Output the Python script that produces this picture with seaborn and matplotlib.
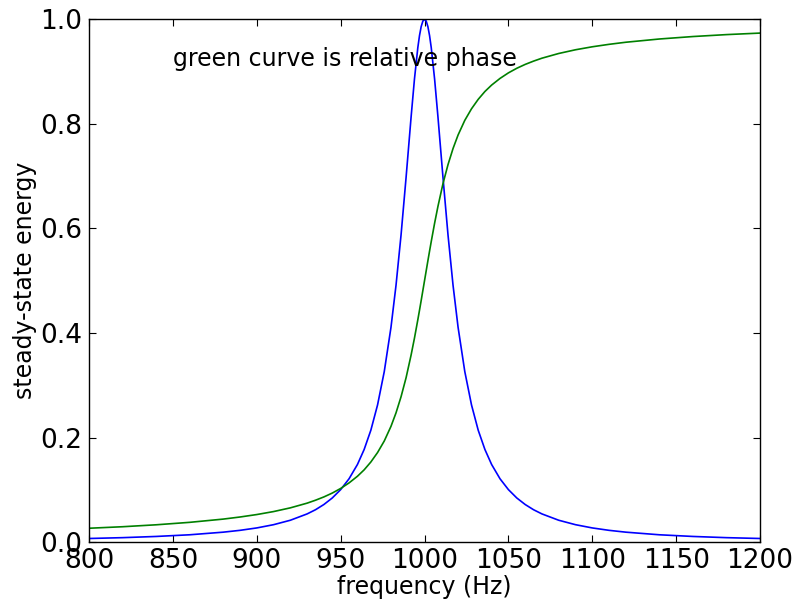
import matplotlib
matplotlib.use("Agg")
import matplotlib.pyplot as plt
import seaborn as sns
from matplotlib.ticker import FormatStrFormatter

# frequency samples (Hz)
freq = [800, 820, 840, 860, 880, 890, 900, 910, 920, 930, 935, 940, 945, 950, 955,
        960, 964, 968, 972, 976, 980, 983, 986, 989, 992, 994, 996, 997, 998, 999,
        1000, 1001, 1002, 1003, 1004, 1006, 1008, 1011, 1014, 1017, 1020, 1024,
        1028, 1032, 1036, 1040, 1045, 1050, 1055, 1060, 1065, 1070, 1080, 1090,
        1100, 1110, 1120, 1140, 1160, 1180, 1200]

# steady-state energy (blue)
energy = [0.0069, 0.0085, 0.0108, 0.0140, 0.0190, 0.0225, 0.0271, 0.0333, 0.0418,
          0.0539, 0.0619, 0.0719, 0.0844, 0.1004, 0.1211, 0.1484, 0.1771, 0.2140,
          0.2624, 0.3262, 0.4108, 0.4911, 0.5873, 0.6974, 0.8133, 0.8857, 0.9457,
          0.9687, 0.9859, 0.9964, 1.0, 0.9964, 0.9859, 0.9687, 0.9457, 0.8857,
          0.8133, 0.6974, 0.5873, 0.4911, 0.4108, 0.3262, 0.2624, 0.2140, 0.1771,
          0.1484, 0.1211, 0.1004, 0.0844, 0.0719, 0.0619, 0.0539, 0.0418, 0.0333,
          0.0271, 0.0225, 0.0190, 0.0140, 0.0108, 0.0085, 0.0069]

# relative phase (green)
phase = [0.0265, 0.0294, 0.0331, 0.0378, 0.0440, 0.0480, 0.0527, 0.0584, 0.0655,
         0.0745, 0.0801, 0.0864, 0.0938, 0.1026, 0.1132, 0.1259, 0.1382, 0.1532,
         0.1713, 0.1934, 0.2214, 0.2472, 0.2780, 0.3144, 0.3579, 0.3902, 0.4252,
         0.4434, 0.4620, 0.4810, 0.5, 0.5190, 0.5380, 0.5566, 0.5748, 0.6098,
         0.6421, 0.6856, 0.7220, 0.7528, 0.7786, 0.8066, 0.8287, 0.8468, 0.8618,
         0.8741, 0.8868, 0.8974, 0.9062, 0.9136, 0.9199, 0.9255, 0.9345, 0.9416,
         0.9473, 0.9520, 0.9560, 0.9622, 0.9669, 0.9706, 0.9735]

x_ticks = [800, 850, 900, 950, 1000, 1050, 1100, 1150, 1200]
y_ticks = [0.0, 0.2, 0.4, 0.6, 0.8, 1.0]

sns.set_style("ticks")
plt.rcParams['font.family'] = ['DejaVu Sans']
plt.rcParams['text.color'] = 'black'
plt.rcParams['axes.labelcolor'] = 'black'

fig = plt.figure(figsize=(7.95, 6.01), dpi=100)
ax = fig.add_axes([0.112, 0.098, 0.844, 0.870])

sns.lineplot(x=freq, y=energy, color='#0000ff', linewidth=1.2, ax=ax)
sns.lineplot(x=freq, y=phase, color='#008000', linewidth=1.2, ax=ax)

ax.set_xlim(800, 1200)
ax.set_ylim(0, 1.0)
ax.set_xticks(x_ticks)
ax.set_yticks(y_ticks)
ax.yaxis.set_major_formatter(FormatStrFormatter('%.1f'))
ax.tick_params(direction='in', top=True, right=True, length=5, width=0.8,
               labelsize=19, colors='black')
ax.tick_params(axis='x', pad=4)
ax.tick_params(axis='y', pad=5)
for s in ax.spines.values():
    s.set_visible(True)
    s.set_color('black')
    s.set_linewidth(1.0)

ax.set_xlabel('frequency (Hz)', fontsize=17, labelpad=1, color='black')
ax.set_ylabel('steady-state energy', fontsize=17, labelpad=2, color='black')
ax.text(850, 0.91, 'green curve is relative phase', fontsize=17, color='black')

fig.savefig('out.png', dpi=100)
